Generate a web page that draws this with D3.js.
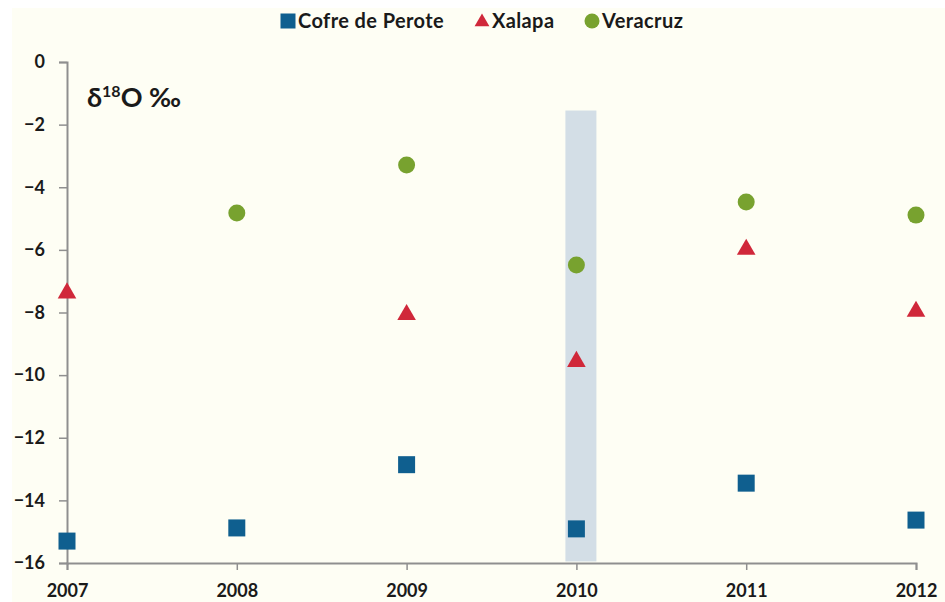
<!DOCTYPE html>
<html>
<head>
<meta charset="utf-8">
<script src="https://cdn.jsdelivr.net/npm/d3@7"></script>
<style>
  body { margin: 0; background: #ffffff; }
  text { font-family: Lato, "Open Sans", sans-serif; font-weight: bold; fill: #1a1a1a; }
</style>
</head>
<body>
<svg id="chart" width="945" height="602"></svg>
<script>
// --- data
const years = [2007, 2008, 2009, 2010, 2011, 2012]
const cofre = [[2007, -15.30], [2008, -14.88], [2009, -12.86], [2010, -14.91], [2011, -13.45], [2012, -14.63]]
const xalapa = [[2007, -7.33], [2009, -8.02], [2010, -9.52], [2011, -5.94], [2012, -7.92]]
const veracruz = [[2008, -4.82], [2009, -3.29], [2010, -6.48], [2011, -4.47], [2012, -4.89]]
const yTicks = [0, -2, -4, -6, -8, -10, -12, -14, -16]
const highlightYear = 2010

const svg = d3.select('#chart')
const margin = {left: 67, right: 29, top: 62, bottom: 39}
const W = 945, H = 602

svg.append('rect').attr('x', 12).attr('y', 8).attr('width', W - 12).attr('height', H - 8)
    .attr('fill', '#fefef4')

const x = d3.scaleLinear().domain([2007, 2012]).range([margin.left, W - margin.right])
const y = d3.scaleLinear().domain([0, -16]).range([margin.top, H - margin.bottom])

// shaded band behind 2010
svg.append('rect')
    .attr('x', x(highlightYear) - 11).attr('width', 31)
    .attr('y', y(-1.55)).attr('height', y(-15.95) - y(-1.55))
    .attr('fill', '#d3dee6')

// axes
const yAxis = svg.append('g').attr('transform', `translate(${margin.left},0)`)
    .call(d3.axisLeft(y).tickValues(yTicks).tickSize(8).tickPadding(14).tickFormat(d3.format('d')))
const xAxis = svg.append('g').attr('transform', `translate(0,${y(-16)})`)
    .call(d3.axisBottom(x).tickValues(years).tickSize(7).tickPadding(14).tickFormat(d3.format('d')))

for (const g of [yAxis, xAxis]) {
    g.select('.domain').attr('stroke', '#8f8f8f').attr('stroke-width', 2)
    g.selectAll('.tick line').attr('stroke', '#8f8f8f').attr('stroke-width', 1.5)
    g.selectAll('.tick text').style('font-size', '18px').style('font-family', 'Lato, sans-serif')
        .attr('fill', '#1a1a1a')
}
xAxis.selectAll('.tick text').attr('dy', '0.71em')

// markers
const sq = d3.symbol().type(d3.symbolSquare).size(17 * 17)
const tri = d3.symbol().type(d3.symbolTriangle).size(150)
const circ = d3.symbol().type(d3.symbolCircle).size(Math.PI * 8.5 * 8.5)

svg.append('g').selectAll('path').data(cofre).join('path')
    .attr('d', sq).attr('fill', '#0f5f8f')
    .attr('transform', d => `translate(${x(d[0])},${y(d[1])})`)
svg.append('g').selectAll('path').data(xalapa).join('path')
    .attr('d', tri).attr('fill', '#d0283a')
    .attr('transform', d => `translate(${x(d[0])},${y(d[1]) + 1.5})`)
svg.append('g').selectAll('path').data(veracruz).join('path')
    .attr('d', circ).attr('fill', '#78a22f')
    .attr('transform', d => `translate(${x(d[0])},${y(d[1])})`)

// legend
const legendItems = [
    {name: 'Cofre de Perote', type: d3.symbolSquare, size: 15 * 15, color: '#0f5f8f', x: 288, dy: 21},
    {name: 'Xalapa', type: d3.symbolTriangle, size: 95, color: '#d0283a', x: 482, dy: 22},
    {name: 'Veracruz', type: d3.symbolCircle, size: Math.PI * 7.5 * 7.5, color: '#78a22f', x: 592, dy: 21}
]
const legend = svg.append('g')
legendItems.forEach(item => {
    legend.append('path').attr('d', d3.symbol().type(item.type).size(item.size)).attr('fill', item.color)
        .attr('transform', `translate(${item.x},${item.dy})`)
    legend.append('text').attr('x', item.x + 10).attr('y', 28)
        .style('font-size', '20px').style('letter-spacing', '0.4px').text(item.name)
})

// unit label
const lab = svg.append('text').attr('x', 87).attr('y', 107).style('font-size', '27px')
lab.append('tspan').text('δ')
lab.append('tspan').attr('dy', -10).style('font-size', '16px').text('18')
lab.append('tspan').attr('dy', 10).text('O ‰')
</script>
</body>
</html>
